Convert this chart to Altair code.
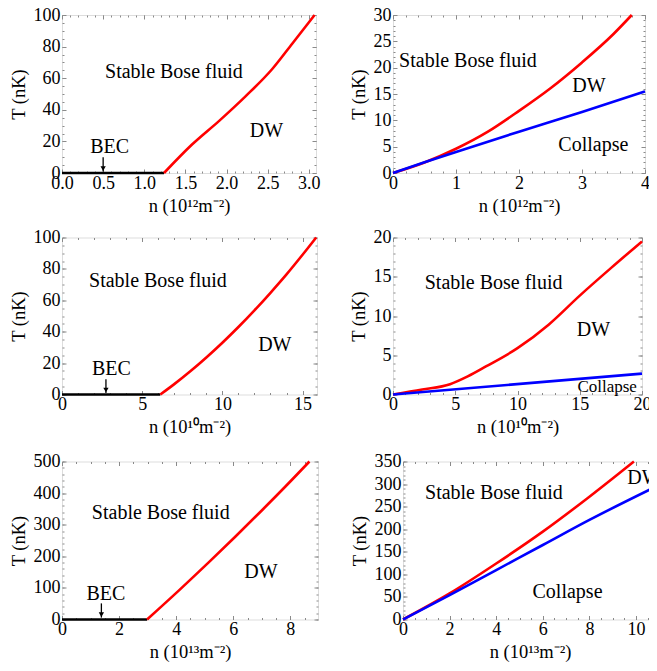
import altair as alt
import numpy as np
import pandas as pd

FONT = "Liberation Serif"
RED = "#ff0000"
BLUE = "#0000ff"
BLACK = "#000000"
FRAME = "#8a8a8a"

# ---------------- data ----------------
# Panel 1 (top left), n in 1e12 m^-2
p1_bec_n = [0.0, 1.24]
p1_bec_T = [0.0, 0.0]
p1_red_n = [1.24, 1.58, 1.91, 2.23, 2.55, 2.80, 3.07]
p1_red_T = [0.0, 18.0, 33.0, 48.5, 65.5, 82.0, 100.0]
p1_labels = ["Stable Bose fluid", "DW", "BEC"]
p1_label_n = [1.36, 2.485, 0.58]
p1_label_T = [64.0, 26.6, 16.7]
p1_label_fs = [20, 20, 20]
p1_arrow = [0.5, 10.0, 1.0]

# Panel 2 (top right)
p2_red_n = [0.0, 0.5, 1.0, 1.5, 2.0, 2.5, 3.0, 3.5, 3.79]
p2_red_T = [0.0, 2.0, 4.6, 7.8, 11.8, 16.1, 21.0, 26.4, 30.0]
p2_blue_n = [0.0, 0.5, 1.0, 2.0, 3.0, 4.0]
p2_blue_T = [0.0, 2.05, 4.0, 7.85, 11.6, 15.5]
p2_labels = ["Stable Bose fluid", "DW", "Collapse"]
p2_label_n = [1.19, 3.11, 3.18]
p2_label_T = [21.2, 16.5, 5.4]
p2_label_fs = [20, 20, 20]

# Panel 3 (middle left), n in 1e10 m^-2
p3_bec_n = [0.0, 6.13]
p3_bec_T = [0.0, 0.0]
p3_red_n = [6.13, 7.0, 8.0, 9.0, 10.0, 11.0, 12.0, 13.0, 14.0, 15.0, 15.85]
p3_red_T = [0.0, 6.6, 14.8, 23.6, 33.0, 43.0, 53.6, 64.8, 76.5, 89.0, 100.0]
p3_labels = ["Stable Bose fluid", "DW", "BEC"]
p3_label_n = [5.98, 13.27, 3.08]
p3_label_T = [72.5, 31.3, 16.5]
p3_label_fs = [20, 20, 20]
p3_arrow = [2.74, 9.7, 1.0]

# Panel 4 (middle right)
p4_red_n = [0.0, 2.35, 4.58, 6.0, 7.5, 10.0, 12.5, 15.0, 17.5, 20.0]
p4_red_T = [0.0, 0.63, 1.31, 2.3, 3.6, 5.9, 8.9, 12.6, 16.1, 19.5]
p4_blue_n = [0.0, 20.0]
p4_blue_T = [0.0, 2.66]
p4_labels = ["Stable Bose fluid", "DW", "Collapse"]
p4_label_n = [8.08, 16.1, 17.2]
p4_label_T = [14.2, 8.16, 1.0]
p4_label_fs = [20, 20, 17]

# Panel 5 (bottom left), n in 1e13 m^-2
p5_bec_n = [0.0, 2.98]
p5_bec_T = [0.0, 0.0]
p5_red_n = [2.98, 4.09, 5.14, 6.07, 7.0, 7.82, 8.67]
p5_red_T = [0.0, 91.5, 180.7, 262.0, 345.0, 420.0, 500.0]
p5_labels = ["Stable Bose fluid", "DW", "BEC"]
p5_label_n = [3.46, 6.97, 1.54]
p5_label_T = [336.0, 151.0, 82.0]
p5_label_fs = [20, 20, 20]
p5_arrow = [1.38, 51.0, 6.0]

# Panel 6 (bottom right)
p6_red_n = [0.0, 2.0, 4.0, 6.0, 8.0, 9.91]
p6_red_T = [0.0, 57.7, 124.0, 194.6, 272.0, 350.0]
p6_blue_n = [0.0, 2.0, 4.0, 6.0, 8.0, 10.71]
p6_blue_T = [0.0, 54.0, 109.6, 165.0, 220.6, 290.7]
p6_labels = ["Stable Bose fluid", "DW", "Collapse"]
p6_label_n = [3.9, 10.34, 7.06]
p6_label_T = [279.6, 313.0, 61.5]
p6_label_fs = [20, 20, 20]

# axis tick labels
p1_xticks = [0.0, 0.5, 1.0, 1.5, 2.0, 2.5, 3.0]
p1_yticks = [0, 20, 40, 60, 80, 100]
p2_xticks = [0, 1, 2, 3, 4]
p2_yticks = [0, 5, 10, 15, 20, 25, 30]
p3_xticks = [0, 5, 10, 15]
p3_yticks = [0, 20, 40, 60, 80, 100]
p4_xticks = [0, 5, 10, 15, 20]
p4_yticks = [0, 5, 10, 15, 20]
p5_xticks = [0, 2, 4, 6, 8]
p5_yticks = [0, 100, 200, 300, 400, 500]
p6_xticks = [0, 2, 4, 6, 8, 10]
p6_yticks = [0, 50, 100, 150, 200, 250, 300, 350]

Y_TITLE = "T (nK)"
LABEL_FS = 18
TITLE_FS = 18.5


def curves_df(series):
    rows = []
    for name, ns, ts in series:
        for n, t in zip(ns, ts):
            rows.append({"n": n, "T": t, "s": name})
    return pd.DataFrame(rows)


def minor(dom, step):
    return [float(v) for v in np.round(np.arange(0, dom[1] + 1e-9, step), 6)]


def panel(series, labels, ln, lt, lfs, xdom, ydom, xt, yt, xstep, ystep,
          xfmt, xtitle, w, h, arrow=None, ytitle_pad=5, xtitle_pad=4):
    df = curves_df(series)
    xs = alt.Scale(domain=xdom, nice=False, zero=False)
    ys = alt.Scale(domain=ydom, nice=False, zero=False)
    lab = dict(labelFont=FONT, labelFontSize=LABEL_FS, labelColor="black",
               titleFont=FONT, titleFontSize=TITLE_FS, titleFontWeight="normal",
               titleColor="black", labelFlush=False, labelOverlap=False)
    tk = dict(domain=False, grid=False, tickColor=FRAME, tickWidth=1)
    hidden = dict(labels=False, title=None)

    main = alt.Chart(df).mark_line(strokeWidth=2.6, interpolate="monotone").encode(
        x=alt.X("n:Q", scale=xs, axis=alt.Axis(
            orient="bottom", values=xt, format=xfmt, title=xtitle,
            offset=-4, tickSize=4, labelPadding=1, titlePadding=xtitle_pad,
            **lab, **tk)),
        y=alt.Y("T:Q", scale=ys, axis=alt.Axis(
            orient="left", values=yt, title=Y_TITLE,
            offset=-4, tickSize=4, labelPadding=2, titlePadding=ytitle_pad,
            **lab, **tk)),
        color=alt.Color("s:N", scale=alt.Scale(domain=["bec", "red", "blue"],
                                                range=[BLACK, RED, BLUE]),
                        legend=None),
        detail="s:N",
    )

    def tick_layer(xo, yo, xv, yv, size):
        return alt.Chart(df).mark_line(opacity=0).encode(
            x=alt.X("n:Q", scale=xs, axis=alt.Axis(
                orient=xo, values=xv, offset=-size, tickSize=size, **hidden, **tk)),
            y=alt.Y("T:Q", scale=ys, axis=alt.Axis(
                orient=yo, values=yv, offset=-size, tickSize=size, **hidden, **tk)),
        )

    xm = minor(xdom, xstep)
    ym = minor(ydom, ystep)
    layers = [
        main,
        tick_layer("bottom", "left", xm, ym, 2),
        tick_layer("top", "right", xt, yt, 4),
        tick_layer("top", "right", xm, ym, 2),
    ]

    ldf = pd.DataFrame({"n": ln, "T": lt, "label": labels, "fs": lfs})
    layers.append(alt.Chart(ldf).mark_text(
        font=FONT, align="center", baseline="middle", color="black").encode(
        x=alt.X("n:Q", scale=xs, axis=None),
        y=alt.Y("T:Q", scale=ys, axis=None),
        text="label:N",
        size=alt.Size("fs:Q", scale=None, legend=None),
    ))

    if arrow is not None:
        adf = pd.DataFrame({"n": [arrow[0]], "T0": [arrow[1]], "T1": [arrow[2]]})
        layers.append(alt.Chart(adf).mark_rule(color="black", strokeWidth=1.3).encode(
            x=alt.X("n:Q", scale=xs, axis=None),
            y=alt.Y("T0:Q", scale=ys, axis=None),
            y2="T1:Q",
        ))
        layers.append(alt.Chart(adf).mark_point(
            shape="triangle-down", filled=True, color="black", opacity=1,
            size=28, yOffset=-3).encode(
            x=alt.X("n:Q", scale=xs, axis=None),
            y=alt.Y("T1:Q", scale=ys, axis=None),
        ))

    return alt.layer(*layers).resolve_axis(x="independent", y="independent").properties(
        width=w, height=h)


p1 = panel([("bec", p1_bec_n, p1_bec_T), ("red", p1_red_n, p1_red_T)],
           p1_labels, p1_label_n, p1_label_T, p1_label_fs,
           [0, 3.087], [0, 100], p1_xticks, p1_yticks, 0.1, 5,
           ".1f", "n (10¹²m⁻²)", 254, 158, arrow=p1_arrow)

p2 = panel([("red", p2_red_n, p2_red_T), ("blue", p2_blue_n, p2_blue_T)],
           p2_labels, p2_label_n, p2_label_T, p2_label_fs,
           [0, 4], [0, 30], p2_xticks, p2_yticks, 0.2, 1,
           "d", "n (10¹²m⁻²)", 252, 158)

p3 = panel([("bec", p3_bec_n, p3_bec_T), ("red", p3_red_n, p3_red_T)],
           p3_labels, p3_label_n, p3_label_T, p3_label_fs,
           [0, 15.9], [0, 100], p3_xticks, p3_yticks, 1, 5,
           "d", "n (10¹⁰m⁻²)", 255, 157, arrow=p3_arrow)

p4 = panel([("red", p4_red_n, p4_red_T), ("blue", p4_blue_n, p4_blue_T)],
           p4_labels, p4_label_n, p4_label_T, p4_label_fs,
           [0, 20], [0, 20], p4_xticks, p4_yticks, 1, 1,
           "d", "n (10¹⁰m⁻²)", 249, 157)

p5 = panel([("bec", p5_bec_n, p5_bec_T), ("red", p5_red_n, p5_red_T)],
           p5_labels, p5_label_n, p5_label_T, p5_label_fs,
           [0, 8.97], [0, 500], p5_xticks, p5_yticks, 0.5, 20,
           "d", "n (10¹³m⁻²)", 256, 158, arrow=p5_arrow)

p6 = panel([("red", p6_red_n, p6_red_T), ("blue", p6_blue_n, p6_blue_T)],
           p6_labels, p6_label_n, p6_label_T, p6_label_fs,
           [0, 10.9], [0, 350], p6_xticks, p6_yticks, 0.5, 10,
           "d", "n (10¹³m⁻²)", 254, 158)

row1 = alt.hconcat(p1, p2, spacing=27)
row2 = alt.hconcat(p3, p4, spacing=26)
row3 = alt.hconcat(p5, p6, spacing=30)

top = alt.vconcat(row1, row2, spacing=12.5)
chart = alt.vconcat(top, row3, spacing=14.5).properties(
    padding={"left": 0, "top": -3, "right": -13, "bottom": 0}
).configure_view(stroke=FRAME, strokeWidth=1).configure(background="white")

chart.save("out.html", embed_options={"renderer": "svg", "actions": False})
